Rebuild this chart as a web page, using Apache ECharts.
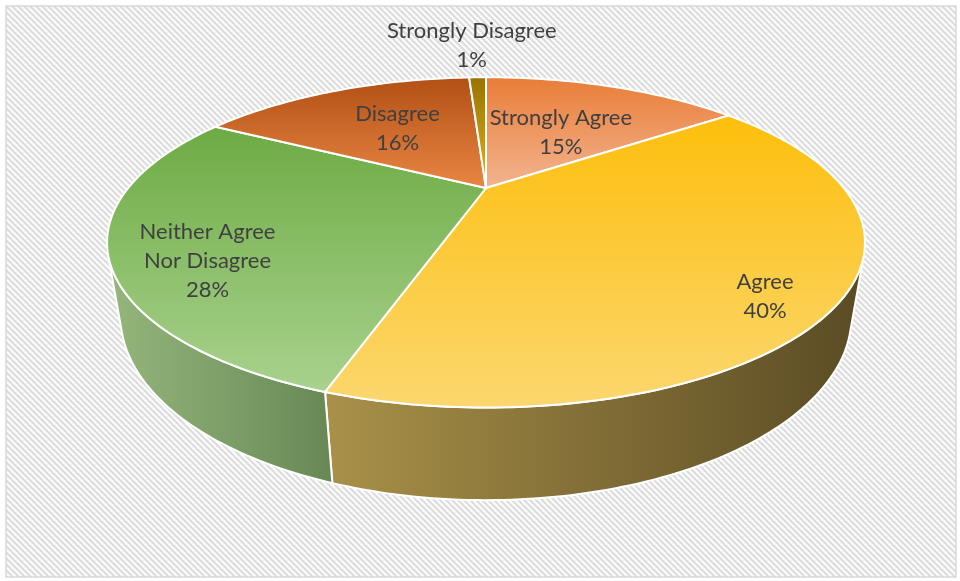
<!DOCTYPE html>
<html>
<head>
<meta charset="utf-8">
<script src="https://cdn.jsdelivr.net/npm/echarts@6/dist/echarts.min.js"></script>
<style>
  html, body { margin: 0; padding: 0; background: #fff; }
  #chart { width: 960px; height: 581px; }
</style>
</head>
<body>
<div id="chart"></div>
<script>
// data
const categories = ['Strongly Agree', 'Agree', 'Neither Agree Nor Disagree', 'Disagree', 'Strongly Disagree'];
const labelNames = ['Strongly Agree', 'Agree', 'Neither Agree\nNor Disagree', 'Disagree', 'Strongly Disagree'];
const values = [15, 40, 28, 16, 1];

// styles
const topColors = [
    ['#e97c37', '#f2b590'],
    ['#fdbf0c', '#fbd770'],
    ['#6dab44', '#a9d28e'],
    ['#b14f15', '#ea8744'],
    ['#977300', '#e2b222'],
];
const wallColors = [
    ['#f0a070', '#b8643a'],
    ['#a99149', '#5a4b24'],
    ['#95b77c', '#678855'],
    ['#c8692c', '#8a3f10'],
    ['#c9a11e', '#7a5d00'],
];
// label anchor: radius fraction on the top face + small pixel nudge
const labelPlace = [
    { r: 0.5, dx: 4, dy: 2 },
    { r: 0.8, dx: 5, dy: 26 },
    { r: 0.75, dx: -4, dy: 28 },
    { r: 0.55, dx: 3, dy: 0 },
    { r: 1.3, dx: -4, dy: -9 },
];

// perspective view of the pie (radius 1, thickness H)
const view = { cx: 486, cy: 188, f: 990, D: 2.767, tilt: 24.3, H: 0.222 };
const cosT = Math.cos(view.tilt * Math.PI / 180);
const sinT = Math.sin(view.tilt * Math.PI / 180);
// outer wall faces the camera where cos(theta) < -1/(D cos tilt)
const wallLimit = Math.acos(-1 / (view.D * cosT)) * 180 / Math.PI;

function project(deg, r, y) {
    const t = deg * Math.PI / 180;
    const X = r * Math.sin(t);
    const Z = r * Math.cos(t);
    const yp = y * cosT + Z * sinT;
    const d = view.D + Z * cosT - y * sinT;
    return [view.cx + view.f * X / d, view.cy - view.f * yp / d];
}

const total = values.reduce((a, b) => a + b, 0);
const starts = [];
let acc = 0;
values.forEach(v => { starts.push(acc / total * 360); acc += v; });

function arc(a1, a2, y) {
    const pts = [];
    const n = Math.max(2, Math.ceil((a2 - a1) / 1));
    for (let k = 0; k <= n; k++) pts.push(project(a1 + (a2 - a1) * k / n, 1, y));
    return pts;
}

const tile = document.createElement('canvas');
tile.width = 6;
tile.height = 6;
const g = tile.getContext('2d');
g.fillStyle = '#ffffff';
g.fillRect(0, 0, 6, 6);
g.strokeStyle = '#dedede';
g.lineWidth = 2.4;
[-6, 0, 6].forEach(x => {
    g.beginPath();
    g.moveTo(x - 1, -1);
    g.lineTo(x + 7, 7);
    g.stroke();
});

const chart = echarts.init(document.getElementById('chart'));

chart.setOption({
    backgroundColor: '#ffffff',
    animation: false,
    graphic: [{
        type: 'rect',
        z: 0,
        shape: { x: 6, y: 6, width: 950, height: 571 },
        style: { fill: { image: tile, repeat: 'repeat' }, stroke: '#d9d9d9', lineWidth: 1.5 },
        silent: true,
    }],
    series: [
        {
            type: 'custom',
            name: 'walls',
            coordinateSystem: 'none',
            z: 2,
            data: values,
            renderItem: function (params, api) {
                const i = params.dataIndex;
                const a1 = starts[i];
                const a2 = a1 + api.value(0) / total * 360;
                const lo = Math.max(a1, wallLimit);
                const hi = Math.min(a2, 360 - wallLimit);
                if (lo >= hi) return { type: 'group', children: [] };
                const pts = arc(lo, hi, 0).concat(arc(lo, hi, -view.H).reverse());
                return {
                    type: 'polygon',
                    shape: { points: pts },
                    style: {
                        fill: new echarts.graphic.LinearGradient(0, 0, 1, 0, [
                            { offset: 0, color: wallColors[i][0] },
                            { offset: 1, color: wallColors[i][1] },
                        ]),
                        stroke: '#ffffff',
                        lineWidth: 2,
                        lineJoin: 'round',
                    },
                };
            },
        },
        {
            type: 'custom',
            name: 'tops',
            coordinateSystem: 'none',
            z: 3,
            data: values,
            renderItem: function (params, api) {
                const i = params.dataIndex;
                const a1 = starts[i];
                const a2 = a1 + api.value(0) / total * 360;
                const pts = [project(0, 0, 0)].concat(arc(a1, a2, 0));
                return {
                    type: 'polygon',
                    shape: { points: pts },
                    style: {
                        fill: new echarts.graphic.LinearGradient(0, 0, 0, 1, [
                            { offset: 0, color: topColors[i][0] },
                            { offset: 1, color: topColors[i][1] },
                        ]),
                        stroke: '#ffffff',
                        lineWidth: 2,
                        lineJoin: 'round',
                    },
                };
            },
        },
        {
            type: 'custom',
            name: 'labels',
            coordinateSystem: 'none',
            z: 4,
            data: values,
            renderItem: function (params, api) {
                const i = params.dataIndex;
                const v = api.value(0);
                const mid = starts[i] + v / total * 180;
                const p = project(mid, labelPlace[i].r, 0);
                return {
                    type: 'text',
                    style: {
                        text: labelNames[i] + '\n' + Math.round(v / total * 100) + '%',
                        x: p[0] + labelPlace[i].dx,
                        y: p[1] + labelPlace[i].dy,
                        fill: '#404040',
                        font: '22px Lato',
                        align: 'center',
                        verticalAlign: 'middle',
                        lineHeight: 29,
                    },
                };
            },
        },
    ],
});
</script>
</body>
</html>
